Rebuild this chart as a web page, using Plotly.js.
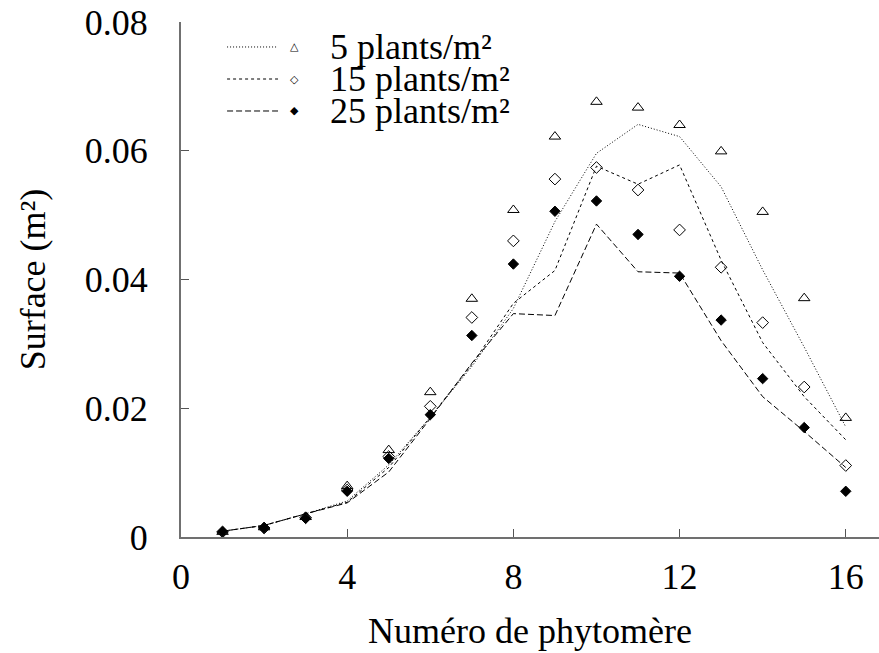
<!DOCTYPE html>
<html>
<head>
<meta charset="utf-8">
<script src="https://cdn.plot.ly/plotly-3.0.1.min.js"></script>
<style>html,body{margin:0;padding:0;background:#fff;}#chart{width:879px;height:653px;}</style>
</head>
<body>
<div id="chart"></div>
<script>
// Phytomer numbers
const phytomers = [1, 2, 3, 4, 5, 6, 7, 8, 9, 10, 11, 12, 13, 14, 15, 16];

// Observed leaf surface (m²) – markers
const obs5  = [0.0008, 0.0015, 0.0031, 0.0079, 0.0135, 0.0225, 0.0370, 0.0508, 0.0622, 0.0676, 0.0667, 0.0640, 0.0599, 0.0505, 0.0371, 0.0185];
const obs15 = [0.0008, 0.0014, 0.0030, 0.0073, 0.0125, 0.0203, 0.0341, 0.0460, 0.0556, 0.0574, 0.0539, 0.0477, 0.0419, 0.0333, 0.0233, 0.0111];
const obs25 = [0.0008, 0.0014, 0.0029, 0.0071, 0.0122, 0.0190, 0.0313, 0.0424, 0.0506, 0.0522, 0.0470, 0.0405, 0.0337, 0.0246, 0.0170, 0.0071];

// Simulated leaf surface (m²) – lines
const sim5  = [0.0009, 0.0018, 0.0036, 0.0056, 0.0112, 0.0186, 0.0265, 0.0355, 0.0490, 0.0596, 0.0641, 0.0622, 0.0544, 0.0415, 0.0295, 0.0171];
const sim15 = [0.0009, 0.0018, 0.0036, 0.0054, 0.0108, 0.0186, 0.0268, 0.0363, 0.0414, 0.0576, 0.0548, 0.0578, 0.0430, 0.0302, 0.0218, 0.0151];
const sim25 = [0.0009, 0.0018, 0.0036, 0.0053, 0.0101, 0.0184, 0.0270, 0.0347, 0.0344, 0.0486, 0.0412, 0.0410, 0.0305, 0.0218, 0.0164, 0.0108];

// Labels
const seriesNames = ['5 plants/m²', '15 plants/m²', '25 plants/m²'];
const xTickVals = [0, 4, 8, 12, 16];
const yTickVals = [0, 0.02, 0.04, 0.06, 0.08];
const yTickText = ['0', '0.02', '0.04', '0.06', '0.08'];
const xTitle = 'Numéro de phytomère';
const yTitle = 'Surface (m²)';

const FONT = 'Liberation Serif, Times New Roman, serif';
const dashes = ['1px,2px', '3px,3px', '6px,3px'];
const symbols = ['triangle-up-open', 'diamond-open', 'diamond'];
const symbolSizes = [10, 9, 8];
const sims = [sim5, sim15, sim25];
const obs = [obs5, obs15, obs25];

const traces = [];
for (let i = 0; i < 3; i++) {
  traces.push({
    x: phytomers, y: sims[i], type: 'scatter', mode: 'lines',
    line: {color: '#000', width: 1, dash: dashes[i]},
    name: seriesNames[i], showlegend: false, hoverinfo: 'skip'
  });
}
for (let i = 0; i < 3; i++) {
  traces.push({
    x: phytomers, y: obs[i], type: 'scatter', mode: 'markers',
    marker: {symbol: symbols[i], size: symbolSizes[i], color: '#000', line: {color: '#000', width: 1}},
    name: seriesNames[i], showlegend: false
  });
}

// Custom legend (line, symbol, label) in paper coordinates
const legRowY = [0.9515, 0.8893, 0.8272];
const legSymbolChars = ['△', '◇', '◆'];
const shapes = [];
const annotations = [];
for (let i = 0; i < 3; i++) {
  shapes.push({type: 'line', xref: 'paper', yref: 'paper', x0: 0.066, x1: 0.139, y0: legRowY[i], y1: legRowY[i],
    line: {color: '#000', width: 1, dash: dashes[i]}});
  annotations.push({xref: 'paper', yref: 'paper', x: 0.162, y: legRowY[i], xanchor: 'center', yanchor: 'middle',
    text: legSymbolChars[i], showarrow: false, font: {family: 'DejaVu Sans', size: 11, color: '#000'}});
  annotations.push({xref: 'paper', yref: 'paper', x: 0.211, y: legRowY[i], xanchor: 'left', yanchor: 'middle',
    text: seriesNames[i], showarrow: false, font: {family: FONT, size: 36, color: '#000'}});
}

const layout = {
  width: 879, height: 653,
  margin: {l: 181, r: 0, t: 22, b: 116, pad: 0},
  paper_bgcolor: '#fff', plot_bgcolor: '#fff',
  font: {family: FONT, size: 36, color: '#000'},
  showlegend: false,
  xaxis: {
    range: [0, 16.8], tickvals: xTickVals, ticktext: xTickVals.map(String),
    ticks: 'inside', ticklen: 8, tickwidth: 1, tickcolor: '#555',
    showline: true, linecolor: '#707070', linewidth: 2, showgrid: false, zeroline: false,
    ticklabelstandoff: 7,
    title: {text: xTitle, font: {family: FONT, size: 36, color: '#000'}, standoff: 22},
    automargin: false
  },
  yaxis: {
    range: [0, 0.08], tickvals: yTickVals, ticktext: yTickText,
    ticks: 'inside', ticklen: 8, tickwidth: 1, tickcolor: '#555',
    showline: true, linecolor: '#707070', linewidth: 2, showgrid: false, zeroline: false,
    ticklabelstandoff: 24,
    title: {text: yTitle, font: {family: FONT, size: 36, color: '#000'}, standoff: 28},
    automargin: false
  },
  shapes: shapes,
  annotations: annotations
};

Plotly.newPlot('chart', traces, layout, {staticPlot: true, displayModeBar: false});
</script>
</body>
</html>
